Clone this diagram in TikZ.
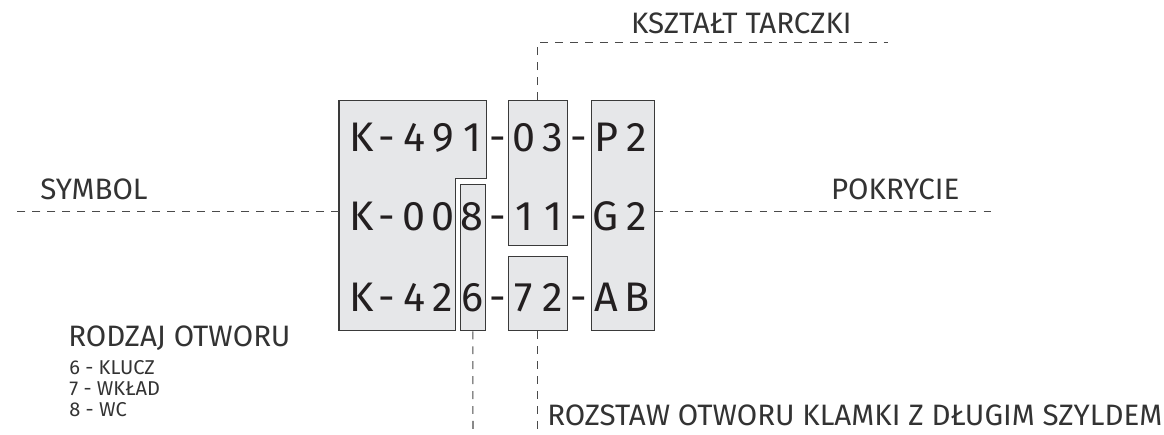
\documentclass[tikz,border=0pt]{standalone}
\usepackage{fontspec}
\setmainfont{Fira Sans}
\usetikzlibrary{fit}

\definecolor{boxfill}{HTML}{E6E7E9}
\definecolor{boxline}{HTML}{3A3A3A}
\definecolor{dashline}{HTML}{4A4A4A}
\definecolor{labeltext}{HTML}{333333}
\definecolor{codetext}{HTML}{231F20}

\tikzset{
  codebox/.style={draw=boxline,fill=boxfill,line width=0.75pt,inner sep=0pt},
  codechar/.style={anchor=base,inner sep=0pt,text=codetext,font=\fontsize{23.5}{26}\selectfont},
  guide/.style={draw=dashline,line width=0.6pt,dash pattern=on 4.5pt off 4pt},
  label/.style={anchor=base west,inner sep=0pt,text=labeltext,font=\fontsize{16.8}{20}\selectfont},
  sublabel/.style={anchor=base west,inner sep=0pt,text=labeltext,font=\fontsize{11.4}{13}\selectfont}
}

\begin{document}
\begin{tikzpicture}[x=0.02cm,y=-0.02cm]
  \useasboundingbox (0,0) rectangle (1164,434);

  % L-shaped symbol block
  \draw[codebox] (339,100.7) -- (486.3,100.7) -- (486.3,178.3) -- (455.3,178.3)
    -- (455.3,330.7) -- (339,330.7) -- cycle;
  \coordinate (symbol-w) at (339,211.7);
  % boxes
  \node[codebox,fit={(460.3,184.7) (485.3,330.7)}] (otwor) {};
  \node[codebox,fit={(508.3,100.7) (567.3,245.3)}] (tarcza) {};
  \node[codebox,fit={(508.3,256.3) (567.3,330.7)}] (rozstaw) {};
  \node[codebox,fit={(591.3,100.7) (654.3,330.7)}] (pokrycie) {};

  % code characters
  \def\colx{{362,387,414,443,472,498,524,553,579,606,637}}
  \foreach \yb/\chars [count=\r] in {151/{K,-,4,9,1,-,0,3,-,P,2},
      230/{K,-,0,0,8,-,1,1,-,G,2}, 311.7/{K,-,4,2,6,-,7,2,-,A,B}}
    \foreach \ch [count=\i from 0] in \chars {
      \pgfmathsetmacro\xc{\colx[\i]}
      \node[codechar] (c\r-\i) at (\xc,\yb) {\ch};
    }

  % guide lines
  \coordinate (symbol-end) at (12,211.7);
  \coordinate (pokrycie-end) at (998,211.7);
  \coordinate (tarcza-end) at (888,42.7);
  \coordinate (otwor-end) at (473,434);
  \coordinate (rozstaw-end) at (537.8,434);
  \draw[guide] (symbol-w) -- (symbol-end);
  \draw[guide] (pokrycie.east |- symbol-w) -- (pokrycie-end);
  \draw[guide] (tarcza.north) |- (tarcza-end);
  \draw[guide] (otwor.south) -- (otwor-end);
  \draw[guide] (rozstaw.south) -- (rozstaw-end);

  % labels
  \node[label] (symbol-lbl) at (40,199) {SYMBOL};
  \node[label] (pokrycie-lbl) at (830.7,199) {POKRYCIE};
  \node[label] (tarcza-lbl) at (630.7,33) {KSZTAŁT TARCZKI};
  \node[label] (otwor-lbl) at (68,346.7) {RODZAJ OTWORU};
  \node[sublabel] (otwor-6) at (69,374) {6 - KLUCZ};
  \node[sublabel] (otwor-7) at (69,395.7) {7 - WKŁAD};
  \node[sublabel] (otwor-8) at (69,416.7) {8 - WC};
  \node[label] (rozstaw-lbl) at (547,425) {ROZSTAW OTWORU KLAMKI Z DŁUGIM SZYLDEM};
\end{tikzpicture}
\end{document}
